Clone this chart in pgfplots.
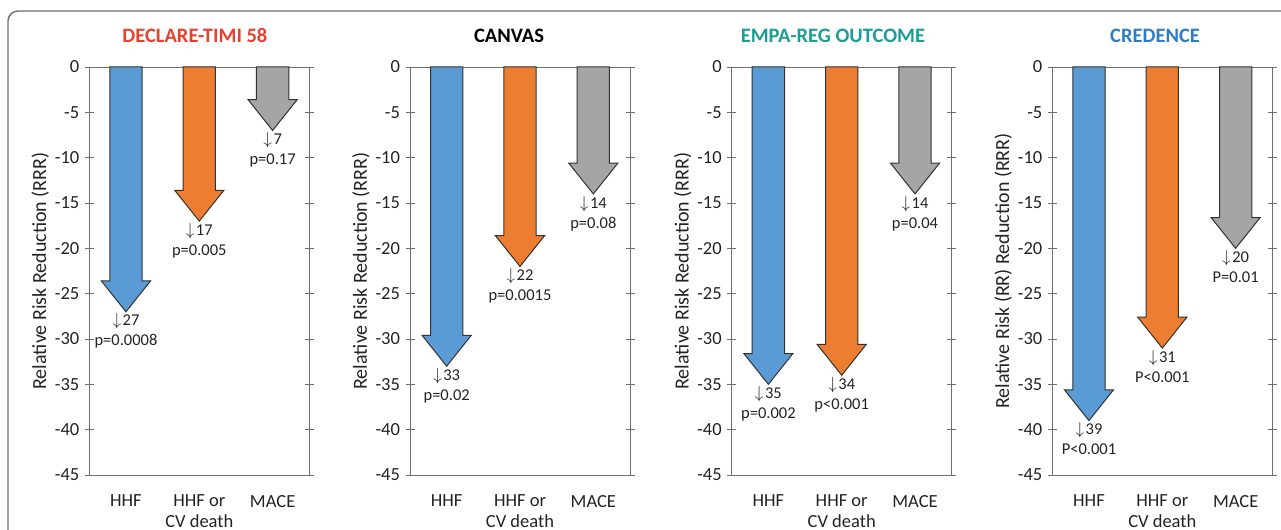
\documentclass[border=0pt]{standalone}
\usepackage{fontspec}
\setmainfont{Carlito}
\usepackage{pgfplots}
\pgfplotsset{compat=1.18}

\definecolor{hhf}{RGB}{91,155,213}
\definecolor{cvd}{RGB}{237,125,49}
\definecolor{mace}{RGB}{165,165,165}
\definecolor{outl}{RGB}{50,50,50}
\definecolor{txt}{RGB}{35,35,35}
\definecolor{axl}{RGB}{110,110,110}
\definecolor{tred}{RGB}{232,65,45}
\definecolor{tteal}{RGB}{26,158,150}
\definecolor{tblue}{RGB}{46,125,196}

\newcommand{\fs}{\fontsize{18.5bp}{21bp}\selectfont}
\newcommand{\fd}{\fontsize{16.5bp}{20bp}\selectfont}

% arrow from 0 down to value #2 at category #1, label #4 / #5
\newcommand{\darrow}[5]{%
  \pgfmathsetmacro\xa{#1-0.22}\pgfmathsetmacro\xb{#1+0.22}%
  \pgfmathsetmacro\xc{#1-0.335}\pgfmathsetmacro\xd{#1+0.335}%
  \pgfmathsetmacro\yh{#2+3.4}%
  \edef\tmp{\noexpand\addplot[fill=#3, draw=outl, line width=1bp, line join=miter]
    coordinates {(\xa,0) (\xb,0) (\xb,\yh) (\xd,\yh) (#1,#2) (\xc,\yh) (\xa,\yh)} -- cycle;}%
  \tmp
  \node[anchor=north, align=center, font=\fd, text=txt, inner sep=1bp, yshift=-1bp]
    at (axis cs:#1,#2) {$\downarrow$\kern1.5bp#4\\#5};
}

\pgfplotsset{
  panel/.style={
    scale only axis, width=220bp, height=408bp,
    xmin=-0.5, xmax=2.5, ymin=-45, ymax=0,
    xtick={0,1,2}, xticklabels={HHF, HHF or\\CV death, MACE},
    ytick={-45,-40,...,0},
    axis line style={draw=axl, line width=0.9bp},
    major x tick style={draw=none},
    tick align=center, major tick length=9bp,
    major y tick style={draw=axl, line width=0.9bp},
    /pgf/number format/assume math mode=true,
    ticklabel style={font=\fs, text=txt},
    xticklabel style={align=center, yshift=-12bp},
    yticklabel style={xshift=-2bp},
    ylabel style={at={(axis description cs:-0.2227,0.5)}, anchor=center,
      font=\fontsize{20bp}{22bp}\selectfont, text=txt},
    title style={anchor=base, font=\fontsize{20.5bp}{22bp}\selectfont\bfseries},
  }
}

\begin{document}
\begin{tikzpicture}
\path[use as bounding box] (0,0) rectangle (1281bp,530bp);
\draw[rounded corners=10bp, draw=axl, line width=1.4bp] (8bp,519bp) rectangle (1320bp,-30bp);

% DECLARE-TIMI 58
\begin{axis}[panel, at={(89.3bp,463bp)}, anchor=north west,
  ylabel={Relative Risk Reduction (RRR)},
  title={DECLARE-TIMI 58}, title style={text=tred, at={(axis description cs:0.48,1)}, yshift=19bp}]
  \darrow{0}{-27}{hhf}{27}{p=0.0008}
  \darrow{1}{-17}{cvd}{17}{p=0.005}
  \darrow{2}{-7}{mace}{7}{p=0.17}
\end{axis}

% CANVAS
\begin{axis}[panel, at={(410bp,463bp)}, anchor=north west,
  ylabel={Relative Risk Reduction (RRR)},
  title={CANVAS}, title style={text=black, at={(axis description cs:0.45,1)}, yshift=19bp}]
  \darrow{0}{-33}{hhf}{33}{p=0.02}
  \darrow{1}{-22}{cvd}{22}{p=0.0015}
  \darrow{2}{-14}{mace}{14}{p=0.08}
\end{axis}

% EMPA-REG OUTCOME
\begin{axis}[panel, at={(731.7bp,463bp)}, anchor=north west,
  ylabel={Relative Risk Reduction (RRR)},
  title={EMPA-REG OUTCOME}, title style={text=tteal, at={(axis description cs:0.46,1)}, yshift=19bp}]
  \darrow{0}{-35}{hhf}{35}{p=0.002}
  \darrow{1}{-34}{cvd}{34}{p<0.001}
  \darrow{2}{-14}{mace}{14}{p=0.04}
\end{axis}

% CREDENCE
\begin{axis}[panel, at={(1052.3bp,463bp)}, anchor=north west,
  ylabel={Relative Risk (RR) Reduction (RRR)},
  title={CREDENCE}, title style={text=tblue, at={(axis description cs:0.467,1)}, yshift=19bp}]
  \darrow{0}{-39}{hhf}{39}{P<0.001}
  \darrow{1}{-31}{cvd}{31}{P<0.001}
  \darrow{2}{-20}{mace}{20}{P=0.01}
\end{axis}
\end{tikzpicture}
\end{document}
